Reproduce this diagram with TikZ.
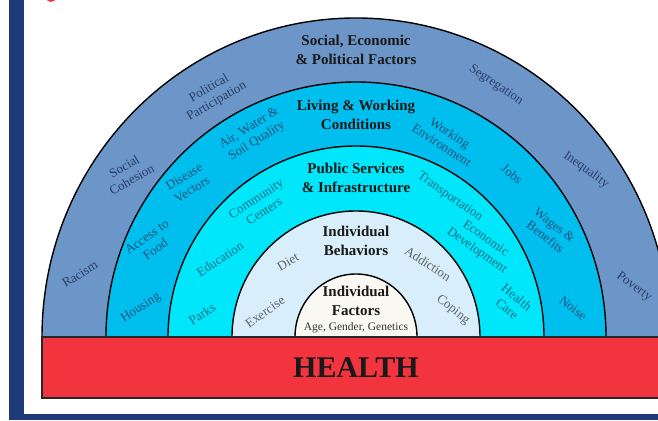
\documentclass[tikz,border=0pt]{standalone}
\usepackage{fontspec}
\setmainfont{Liberation Serif}
\definecolor{navy}{HTML}{1F3A78}
\definecolor{outerband}{HTML}{6C96C8}
\definecolor{livingband}{HTML}{00BFEF}
\definecolor{publicband}{HTML}{00E6FA}
\definecolor{behaveband}{HTML}{D8EEFA}
\definecolor{factorband}{HTML}{FAF8F2}
\definecolor{healthred}{HTML}{F2343F}
\definecolor{outertext}{HTML}{283E66}
\definecolor{livingtext}{HTML}{1B4F78}
\definecolor{publictext}{HTML}{0C6E86}
\definecolor{behavetext}{HTML}{5E6266}

\begin{document}
\begin{tikzpicture}[x=1pt,y=1pt,
    band/.style={draw=black,line width=1.4pt},
    title/.style={font=\bfseries\fontsize{15}{19}\selectfont,align=center,text=black!90},
    lbl/.style={font=\fontsize{13}{15}\selectfont,align=center}]
    \useasboundingbox (0,0) rectangle (658,420);
    \clip (0,0) rectangle (658,420);

    % frame
    \fill[navy] (9,0) rectangle (24,420);
    \fill[navy] (9,0) rectangle (658,6);
    \fill[healthred] (51,423) circle (5pt);

    % half rings, outer to inner
    \filldraw[band,fill=outerband] (42,83) arc[start angle=180,end angle=0,x radius=314pt,y radius=319pt] -- cycle;
    \filldraw[band,fill=livingband] (106,83) arc[start angle=180,end angle=0,x radius=250pt,y radius=255pt] -- cycle;
    \filldraw[band,fill=publicband] (168,83) arc[start angle=180,end angle=0,x radius=188pt,y radius=191pt] -- cycle;
    \filldraw[band,fill=behaveband] (232,83) arc[start angle=180,end angle=0,x radius=124pt,y radius=126pt] -- cycle;
    \filldraw[band,fill=factorband] (295,83) arc[start angle=180,end angle=0,x radius=61pt,y radius=63pt] -- cycle;

    % health bar
    \filldraw[fill=healthred,draw=black!85,line width=1.2pt] (42,22) rectangle (662,83);
    \node[font=\bfseries\fontsize{30}{31}\selectfont,text=black!90] (health) at (356,52) {HEALTH};

    % social, economic & political factors
    \node[title] (socialtitle) at (356,370) {Social, Economic\\\& Political Factors};
    \node[lbl,text=outertext,rotate=30] (polpart) at (213,325) {Political\\Participation};
    \node[lbl,text=outertext,rotate=30] (cohesion) at (128,247) {Social\\Cohesion};
    \node[lbl,text=outertext,rotate=32] (racism) at (80,146) {Racism};
    \node[lbl,text=outertext,rotate=-34] (segregation) at (496,335) {Segregation};
    \node[lbl,text=outertext,rotate=-36] (inequality) at (586,250) {Inequality};
    \node[lbl,text=outertext,rotate=-37] (poverty) at (634,133) {Poverty};

    % living & working conditions
    \node[title] (livingtitle) at (356,305) {Living \& Working\\Conditions};
    \node[lbl,text=livingtext,rotate=32] (air) at (253,285) {Air, Water \&\\Soil Quality};
    \node[lbl,text=livingtext,rotate=32] (disease) at (188,237) {Disease\\Vectors};
    \node[lbl,text=livingtext,rotate=35] (food) at (151,177) {Access to\\Food};
    \node[lbl,text=livingtext,rotate=33] (housing) at (141,112) {Housing};
    \node[lbl,text=livingtext,rotate=-33] (workenv) at (446,281) {Working\\Environment};
    \node[lbl,text=livingtext,rotate=-40] (jobs) at (512,246) {Jobs};
    \node[lbl,text=livingtext,rotate=-38] (wages) at (550,189) {Wages \&\\Benefits};
    \node[lbl,text=livingtext,rotate=-38] (noise) at (573,112) {Noise};

    % public services & infrastructure
    \node[title] (publictitle) at (356,242) {Public Services\\\& Infrastructure};
    \node[lbl,text=publictext,rotate=33] (community) at (260,215) {Community\\Centers};
    \node[lbl,text=publictext,rotate=33] (education) at (220,161) {Education};
    \node[lbl,text=publictext,rotate=33] (parks) at (202,106) {Parks};
    \node[lbl,text=publictext,rotate=-35] (transport) at (450,223) {Transportation};
    \node[lbl,text=publictext,rotate=-35] (economic) at (481,175) {Economic\\Development};
    \node[lbl,text=publictext,rotate=-40] (healthcare) at (512,117) {Health\\Care};

    % individual behaviors
    \node[title] (behavetitle) at (356,179) {Individual\\Behaviors};
    \node[lbl,text=behavetext,rotate=30] (diet) at (288,158) {Diet};
    \node[lbl,text=behavetext,rotate=35] (exercise) at (265,108) {Exercise};
    \node[lbl,text=behavetext,rotate=-33] (addiction) at (428,156) {Addiction};
    \node[lbl,text=behavetext,rotate=-38] (coping) at (453,110) {Coping};

    % individual factors
    \node[title] (factortitle) at (356,119) {Individual\\Factors};
    \node[font=\fontsize{11.5}{12}\selectfont,text=black!80] (agegender) at (356,92) {Age, Gender, Genetics};
\end{tikzpicture}
\end{document}
